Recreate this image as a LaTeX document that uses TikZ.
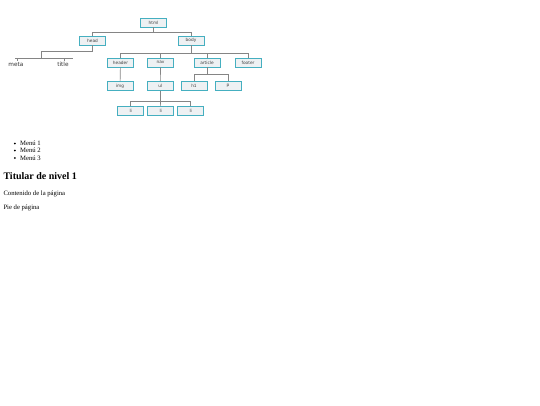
\documentclass[tikz,border=0pt]{standalone}
\usepackage{fontspec}
\setmainfont{Liberation Serif}
\newfontfamily\treefont{DejaVu Sans}
\begin{document}
\begin{tikzpicture}[x=1pt,y=-1pt]
\definecolor{boxfill}{HTML}{EEF1F3}
\definecolor{boxline}{HTML}{45AFC0}
\definecolor{conn}{HTML}{858585}
\tikzset{
  tbox/.style={draw=boxline, fill=boxfill, line width=0.9pt, minimum width=26pt, minimum height=9pt, inner sep=0pt, font=\treefont\fontsize{4.3}{4.5}\selectfont, text=black!75},
  tlink/.style={draw=conn, line width=0.7pt},
  leaf/.style={inner sep=0pt, font=\treefont\fontsize{5.8}{6}\selectfont, text=black!80},
  htmltext/.style={inner sep=0pt, anchor=base west, font=\fontsize{6.67}{8}\selectfont},
  bulletdot/.style={circle, fill=black, inner sep=0pt, minimum size=2pt}
}
\useasboundingbox (0,0) rectangle (540,405);
% tree nodes
\node[tbox] (html) at (153.5,22.5) {html};
\node[tbox] (head) at (92.5,40.5) {head};
\node[tbox] (body) at (191,40.5) {body};
\node[tbox] (header) at (120.5,62.5) {header};
\node[tbox] (nav) at (160.5,62.5) {nav};
\node[tbox] (article) at (207,62.5) {article};
\node[tbox] (footer) at (248,62.5) {footer};
\node[tbox] (img) at (120,86) {img};
\node[tbox] (ul) at (160.3,86) {ul};
\node[tbox] (h1) at (194,86) {h1};
\node[tbox] (p) at (228,86) {p};
\node[tbox] (li1) at (130.7,110.7) {li};
\node[tbox] (li2) at (160.7,110.7) {li};
\node[tbox] (li3) at (190.7,110.7) {li};
\node[leaf] (meta) at (16,64.7) {meta};
\node[leaf] (title) at (63,64.3) {title};
% helper coordinates
\coordinate (hj) at (92.5,51.3);
\coordinate (hk) at (41,51.3);
\coordinate (hl) at (41,58);
\coordinate (ml) at (15,58);
\coordinate (mr) at (73,58);
\coordinate (mt) at (17,58);
\coordinate (mtb) at (17,60.5);
\coordinate (tt) at (64,58);
\coordinate (ttb) at (64,60.5);
% connectors
\draw[tlink] (html.south) -- ++(0,4.5) -| (head.north);
\draw[tlink] (html.south) -- ++(0,4.5) -| (body.north);
\draw[tlink] (head.south) -- (hj) -- (hk) -- (hl);
\draw[tlink] (ml) -- (mr);
\draw[tlink] (mt) -- (mtb);
\draw[tlink] (tt) -- (ttb);
\draw[tlink] (body.south) -- ++(0,8.3) -| (header.north);
\draw[tlink] (body.south) -- ++(0,8.3) -| (nav.north);
\draw[tlink] (body.south) -- ++(0,8.3) -| (article.north);
\draw[tlink] (body.south) -- ++(0,8.3) -| (footer.north);
\draw[tlink] (header) -- (img);
\draw[tlink] (nav) -- (ul);
\draw[tlink] (article.south) -- ++(0,7) -| (h1.north);
\draw[tlink] (article.south) -- ++(0,7) -| (p.north);
\draw[tlink] (ul.south) -- ++(0,10.2) -| (li1.north);
\draw[tlink] (ul.south) -- ++(0,10.2) -| (li3.north);
\draw[tlink] (ul) -- (li2);
% redraw boxes' borders on top of connectors
% HTML rendering
\node[bulletdot] (b1) at (14.8,143.5) {};
\node[bulletdot] (b2) at (14.8,150.5) {};
\node[bulletdot] (b3) at (14.8,158) {};
\node[htmltext] (m1) at (20,145.5) {Menú 1};
\node[htmltext] (m2) at (20,152.5) {Menú 2};
\node[htmltext] (m3) at (20,160) {Menú 3};
\node[htmltext, font=\bfseries\fontsize{10}{12}\selectfont] (tit) at (3.3,179.8) {Titular de nivel 1};
\node[htmltext] (cont) at (3.3,195.6) {Contenido de la página};
\node[htmltext] (pie) at (3.3,209.6) {Pie de página};
\end{tikzpicture}
\end{document}
